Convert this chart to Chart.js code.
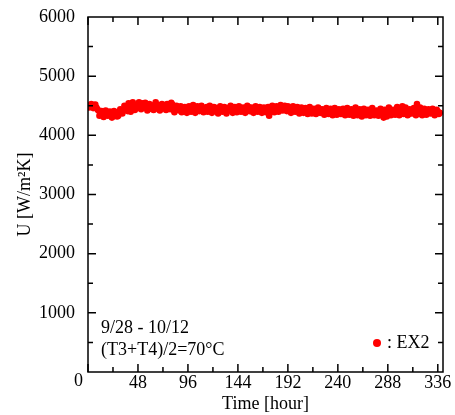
<!DOCTYPE html>
<html>
<head>
<meta charset="utf-8">
<script src="https://cdn.jsdelivr.net/npm/chart.js@4.4.1/dist/chart.umd.min.js"></script>
<style>
  body { margin: 0; background: #fff; }
  #wrap { width: 455px; height: 415px; }
</style>
</head>
<body>
<div id="wrap"><canvas id="uChart"></canvas></div>
<script>
// measured heat transfer coefficient, hourly readings split into even / odd hours
let hoursEven = [2, 4, 6, 8, 10, 12, 14, 16, 18, 20, 22, 24, 26, 28, 30, 32, 34, 36, 38, 40,
  42, 44, 46, 48, 50, 52, 54, 56, 58, 60, 62, 64, 66, 68, 70, 72, 74, 76, 78, 80,
  82, 84, 86, 88, 90, 92, 94, 96, 98, 100, 102, 104, 106, 108, 110, 112, 114, 116, 118, 120,
  122, 124, 126, 128, 130, 132, 134, 136, 138, 140, 142, 144, 146, 148, 150, 152, 154, 156, 158, 160,
  162, 164, 166, 168, 170, 172, 174, 176, 178, 180, 182, 184, 186, 188, 190, 192, 194, 196, 198, 200,
  202, 204, 206, 208, 210, 212, 214, 216, 218, 220, 222, 224, 226, 228, 230, 232, 234, 236, 238, 240,
  242, 244, 246, 248, 250, 252, 254, 256, 258, 260, 262, 264, 266, 268, 270, 272, 274, 276, 278, 280,
  282, 284, 286, 288, 290, 292, 294, 296, 298, 300, 302, 304, 306, 308, 310, 312, 314, 316, 318, 320,
  322, 324, 326, 328, 330, 332, 334, 336, 338];
let uEven = [4500, 4490, 4510, 4470, 4420, 4380, 4360, 4390, 4350, 4370, 4340, 4380, 4360, 4320, 4370, 4400, 4430, 4450, 4410, 4470,
  4440, 4500, 4480, 4520, 4470, 4540, 4500, 4460, 4490, 4450, 4480, 4510, 4470, 4440, 4490, 4460, 4500, 4530, 4480, 4550,
  4490, 4440, 4470, 4420, 4390, 4440, 4410, 4450, 4430, 4460, 4420, 4440, 4470, 4430, 4450, 4410, 4480, 4440, 4420, 4460,
  4430, 4400, 4440, 4460, 4420, 4450, 4410, 4470, 4430, 4400, 4450, 4420, 4460, 4440, 4410, 4450, 4480, 4430, 4400, 4440,
  4460, 4420, 4450, 4430, 4410, 4460, 4330, 4440, 4470, 4420, 4450, 4430, 4460, 4480, 4440, 4490, 4450, 4420, 4470, 4440,
  4410, 4430, 4450, 4400, 4440, 4460, 4420, 4390, 4430, 4410, 4450, 4400, 4380, 4420, 4400, 4430, 4390, 4410, 4380, 4420,
  4400, 4370, 4410, 4390, 4420, 4380, 4400, 4430, 4390, 4370, 4410, 4380, 4400, 4360, 4390, 4420, 4380, 4350, 4400, 4370,
  4410, 4300, 4390, 4360, 4400, 4380, 4420, 4370, 4440, 4400, 4490, 4380, 4420, 4360, 4400, 4380, 4420, 4530, 4390, 4360,
  4400, 4410, 4380, 4420, 4390, 4370, 4410, 4400, 4380];
let hoursOdd = [1, 3, 5, 7, 9, 11, 13, 15, 17, 19, 21, 23, 25, 27, 29, 31, 33, 35, 37, 39,
  41, 43, 45, 47, 49, 51, 53, 55, 57, 59, 61, 63, 65, 67, 69, 71, 73, 75, 77, 79,
  81, 83, 85, 87, 89, 91, 93, 95, 97, 99, 101, 103, 105, 107, 109, 111, 113, 115, 117, 119,
  121, 123, 125, 127, 129, 131, 133, 135, 137, 139, 141, 143, 145, 147, 149, 151, 153, 155, 157, 159,
  161, 163, 165, 167, 169, 171, 173, 175, 177, 179, 181, 183, 185, 187, 189, 191, 193, 195, 197, 199,
  201, 203, 205, 207, 209, 211, 213, 215, 217, 219, 221, 223, 225, 227, 229, 231, 233, 235, 237, 239,
  241, 243, 245, 247, 249, 251, 253, 255, 257, 259, 261, 263, 265, 267, 269, 271, 273, 275, 277, 279,
  281, 283, 285, 287, 289, 291, 293, 295, 297, 299, 301, 303, 305, 307, 309, 311, 313, 315, 317, 319,
  321, 323, 325, 327, 329, 331, 333, 335, 337];
let uOdd = [4470, 4530, 4460, 4520, 4440, 4330, 4410, 4310, 4420, 4330, 4400, 4300, 4410, 4390, 4330, 4440, 4370, 4500, 4480, 4540,
  4400, 4560, 4430, 4510, 4560, 4440, 4490, 4550, 4420, 4530, 4500, 4430, 4560, 4510, 4420, 4530, 4480, 4430, 4500, 4440,
  4520, 4390, 4500, 4460, 4490, 4400, 4480, 4380, 4490, 4400, 4510, 4380, 4490, 4410, 4500, 4390, 4450, 4400, 4500, 4380,
  4480, 4460, 4370, 4490, 4400, 4480, 4370, 4460, 4500, 4380, 4480, 4390, 4490, 4400, 4470, 4380, 4500, 4410, 4470, 4380,
  4490, 4400, 4480, 4380, 4470, 4390, 4480, 4400, 4500, 4390, 4490, 4400, 4510, 4420, 4500, 4410, 4470, 4380, 4490, 4400,
  4480, 4370, 4470, 4380, 4460, 4360, 4480, 4370, 4450, 4360, 4470, 4380, 4440, 4350, 4460, 4360, 4450, 4340, 4460, 4350,
  4440, 4360, 4450, 4340, 4460, 4350, 4440, 4330, 4470, 4340, 4440, 4320, 4450, 4340, 4430, 4330, 4460, 4340, 4420, 4330,
  4450, 4340, 4430, 4320, 4470, 4340, 4430, 4350, 4480, 4340, 4450, 4360, 4470, 4340, 4440, 4370, 4460, 4340, 4420, 4470,
  4340, 4450, 4350, 4440, 4370, 4450, 4340, 4430, 4360];

let xTicks = [0, 48, 96, 144, 192, 240, 288, 336];
let yTicks = [0, 1000, 2000, 3000, 4000, 5000, 6000];
let notes = ["9/28 - 10/12", "(T3+T4)/2=70°C"];

const serif = "'Liberation Serif', 'Times New Roman', serif";

// closed frame with inward major/minor ticks, notes and the legend
const framePlugin = {
  id: "frame",
  afterDraw(chart) {
    const { ctx, chartArea: a, scales: { x, y } } = chart;
    ctx.save();
    ctx.strokeStyle = "#000";
    ctx.lineWidth = 1.5;
    ctx.strokeRect(a.left, a.top, a.right - a.left, a.bottom - a.top);

    ctx.beginPath();
    for (let v = 0; v <= 336; v += 24) {
      const px = x.getPixelForValue(v);
      const len = v % 48 === 0 ? 8 : 5;
      ctx.moveTo(px, a.bottom); ctx.lineTo(px, a.bottom - len);
      ctx.moveTo(px, a.top); ctx.lineTo(px, a.top + len);
    }
    for (let v = 500; v < 6000; v += 500) {
      const py = y.getPixelForValue(v);
      const len = v % 1000 === 0 ? 8 : 5;
      ctx.moveTo(a.left, py); ctx.lineTo(a.left + len, py);
      ctx.moveTo(a.right, py); ctx.lineTo(a.right - len, py);
    }
    ctx.stroke();

    ctx.fillStyle = "#000";
    ctx.font = "18px " + serif;
    ctx.textBaseline = "middle";

    // shared origin label
    ctx.textAlign = "right";
    ctx.fillText("0", a.left - 5, a.bottom + 9);

    ctx.textAlign = "left";
    ctx.fillText(notes[0], a.left + 13, a.bottom - 44);
    ctx.fillText(notes[1], a.left + 13, a.bottom - 22);

    const ds = chart.data.datasets[0];
    ctx.fillStyle = ds.backgroundColor;
    ctx.beginPath();
    ctx.arc(a.right - 66, a.bottom - 29, 4, 0, Math.PI * 2);
    ctx.fill();
    ctx.fillStyle = "#000";
    ctx.fillText(": " + ds.label, a.right - 56, a.bottom - 29);
    ctx.restore();
  }
};

let points = hoursEven.map((h, i) => ({ x: h, y: uEven[i] }))
  .concat(hoursOdd.map((h, i) => ({ x: h, y: uOdd[i] })));

let ctx = document.getElementById("uChart").getContext("2d");

let myChart = new Chart(ctx, {
  type: "scatter",
  data: {
    datasets: [
      {
        label: "EX2",
        data: points,
        backgroundColor: "#ff0000",
        borderWidth: 0,
        pointRadius: 3.3
      }
    ]
  },
  options: {
    responsive: true,
    maintainAspectRatio: false,
    animation: false,
    layout: { padding: { top: 17, right: 12, bottom: 0, left: 0 } },
    plugins: {
      legend: { display: false },
      tooltip: { enabled: false }
    },
    scales: {
      x: {
        type: "linear",
        min: 0,
        max: 341,
        grid: { display: false },
        border: { display: false },
        afterBuildTicks: (scale) => { scale.ticks = xTicks.map(v => ({ value: v })); },
        afterFit: (scale) => { scale.height = 43; },
        ticks: {
          maxRotation: 0,
          padding: -8,
          color: "#000",
          font: { family: serif, size: 18 },
          callback: (v) => (v === 0 ? "" : v)
        },
        title: {
          display: true,
          text: "Time [hour]",
          color: "#000",
          padding: { top: 0, bottom: 0 },
          font: { family: serif, size: 18 }
        }
      },
      y: {
        min: 0,
        max: 6000,
        grid: { display: false },
        border: { display: false },
        afterBuildTicks: (scale) => { scale.ticks = yTicks.map(v => ({ value: v })); },
        afterFit: (scale) => { scale.width = 88; },
        ticks: {
          padding: 5,
          color: "#000",
          font: { family: serif, size: 18 },
          callback: (v) => (v === 0 ? "" : v)
        },
        title: {
          display: true,
          text: "U [W/m²K]",
          color: "#000",
          padding: { top: 14, bottom: 0 },
          font: { family: serif, size: 18 }
        }
      }
    }
  },
  plugins: [framePlugin]
});
</script>
</body>
</html>
